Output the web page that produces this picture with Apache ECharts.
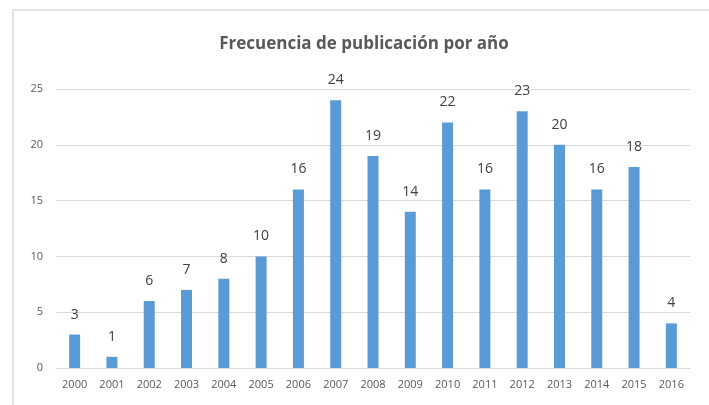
<!DOCTYPE html>
<html><head><meta charset="utf-8">
<script src="https://cdn.jsdelivr.net/npm/echarts@6/dist/echarts.min.js"></script>
<style>html,body{margin:0;padding:0;background:#fff}#c{width:709px;height:405px}</style>
</head><body><div id="c"></div>
<script>
const years = ['2000','2001','2002','2003','2004','2005','2006','2007','2008','2009','2010','2011','2012','2013','2014','2015','2016'];
const counts = [3,1,6,7,8,10,16,24,19,14,22,16,23,20,16,18,4];
const yTicks = [0,5,10,15,20,25];
const titleText = 'Frecuencia de publicación por año';

const chart = echarts.init(document.getElementById('c'), null, {renderer:'canvas'});
chart.setOption({
  animation:false,
  backgroundColor:'#fff',
  graphic:[{type:'rect',shape:{x:13,y:10,width:720,height:420},style:{fill:'none',stroke:'#d9d9d9',lineWidth:1.5}}],
  title:{text:titleText,left:359,top:31,textAlign:'center',
    textStyle:{fontFamily:'Open Sans',fontWeight:'bold',fontSize:17,color:'#595959'}},
  grid:{left:56,right:19,top:89,bottom:37},
  xAxis:{type:'category',data:years,
    axisLine:{lineStyle:{color:'#d9d9d9',width:1}},axisTick:{show:false},
    axisLabel:{color:'#595959',fontFamily:'Open Sans',fontSize:11,margin:11}},
  yAxis:{type:'value',min:yTicks[0],max:yTicks[yTicks.length-1],interval:5,
    axisLine:{show:false},axisTick:{show:false},
    splitLine:{lineStyle:{color:'#d9d9d9',width:1}},
    axisLabel:{color:'#595959',fontFamily:'Open Sans',fontSize:11,margin:13}},
  series:[{type:'bar',data:counts,barWidth:11,
    itemStyle:{color:'#5b9bd5'},
    label:{show:true,position:'top',distance:13,color:'#404040',fontFamily:'Open Sans',fontSize:14}}]
});
</script></body></html>
